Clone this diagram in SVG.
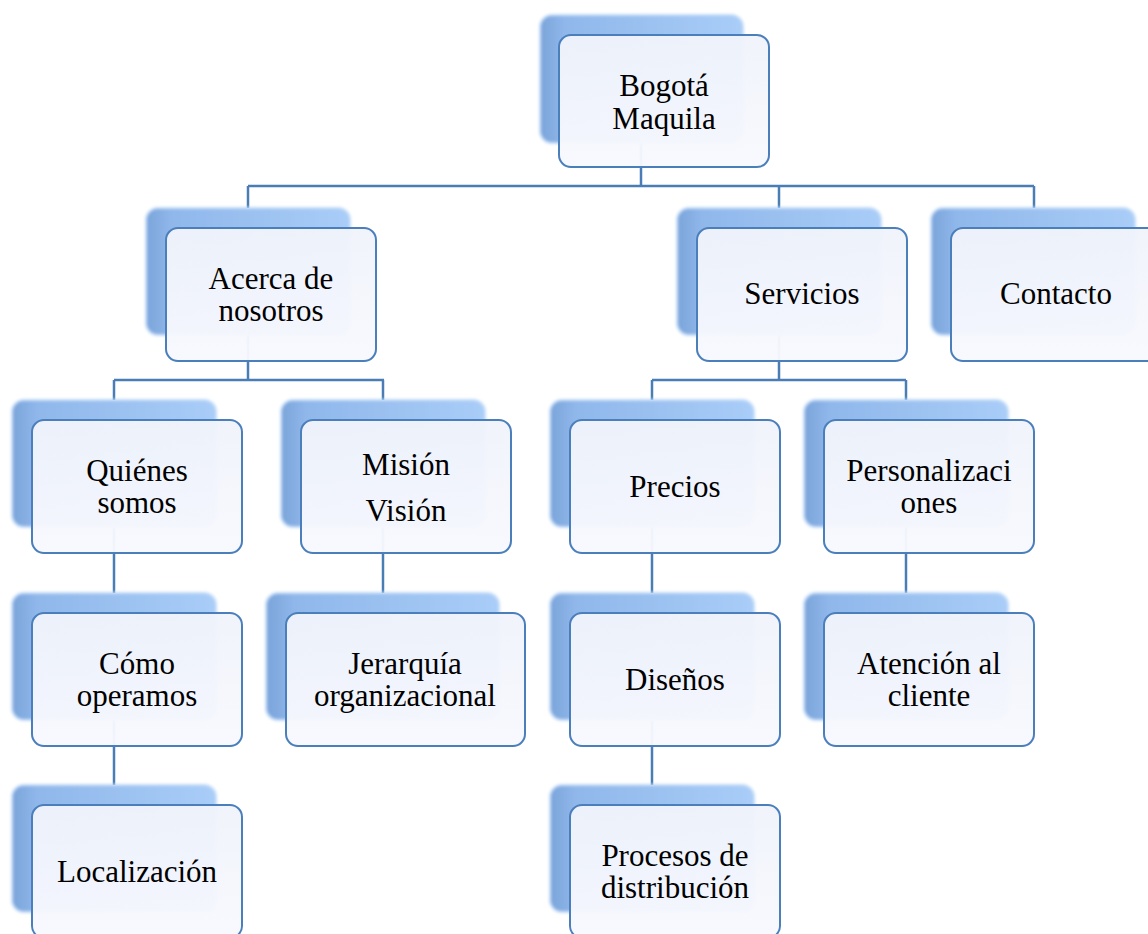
<svg xmlns="http://www.w3.org/2000/svg" width="1148" height="934" viewBox="0 0 1148 934">
<defs>
<linearGradient id="gBack" x1="0" y1="0" x2="1" y2="0">
<stop offset="0" stop-color="#7aa3da"/>
<stop offset="0.12" stop-color="#8fb7ea"/>
<stop offset="1" stop-color="#a9cdf8"/>
</linearGradient>
<linearGradient id="gFront" x1="0" y1="0" x2="0" y2="1">
<stop offset="0" stop-color="#f0f3fb"/>
<stop offset="1" stop-color="#f8f9fe"/>
</linearGradient>
<filter id="glow" x="-10%" y="-10%" width="120%" height="120%">
<feGaussianBlur stdDeviation="1.5"/>
</filter>
</defs>
<style>
.back{fill:url(#gBack);stroke:#c3dcf8;stroke-width:2;filter:url(#glow)}
.front{fill:url(#gFront);fill-opacity:0.96;stroke:#4a7fbc;stroke-width:2}
.t{font-family:"Liberation Serif","Times New Roman",serif;font-size:31px;fill:#000;text-anchor:middle}
.c{fill:none;stroke:#4a7db5;stroke-width:2.5}
</style>
<rect width="1148" height="934" fill="#fff"/>
<g id="connectors">
<path class="c" d="M641,143 V186 M248,186 H1034 M248,186 V208 M779,186 V208 M1034,186 V208"/>
<path class="c" d="M248,335 V380 M114,380 H384 M114,380 V400 M383,380 V400"/>
<path class="c" d="M779,335 V380 M652,380 H906 M652,380 V400 M906,380 V400"/>
<path class="c" d="M114,527 V593 M114,720 V785"/>
<path class="c" d="M383,527 V593"/>
<path class="c" d="M652,527 V593 M652,720 V785"/>
<path class="c" d="M906,527 V593"/>
</g>
<g id="n-root">
<rect class="back" x="540" y="15" width="203" height="128" rx="12"/>
<rect class="front" x="559" y="35" width="210" height="132" rx="12"/>
<text class="t" x="664" y="96">Bogotá</text><text class="t" x="664" y="129">Maquila</text>
</g>
<g id="n-acerca">
<rect class="back" x="146" y="208" width="204" height="127" rx="12"/>
<rect class="front" x="166" y="228" width="210" height="133" rx="12"/>
<text class="t" x="271" y="289">Acerca de</text><text class="t" x="271" y="321">nosotros</text>
</g>
<g id="n-servicios">
<rect class="back" x="677" y="208" width="204" height="127" rx="12"/>
<rect class="front" x="697" y="228" width="210" height="133" rx="12"/>
<text class="t" x="802" y="304">Servicios</text>
</g>
<g id="n-contacto">
<rect class="back" x="931" y="208" width="204" height="127" rx="12"/>
<rect class="front" x="951" y="228" width="210" height="133" rx="12"/>
<text class="t" x="1056" y="304">Contacto</text>
</g>
<g id="n-quienes">
<rect class="back" x="12" y="400" width="204" height="127" rx="12"/>
<rect class="front" x="32" y="420" width="210" height="133" rx="12"/>
<text class="t" x="137" y="481">Quiénes</text><text class="t" x="137" y="513">somos</text>
</g>
<g id="n-mision">
<rect class="back" x="281" y="400" width="204" height="127" rx="12"/>
<rect class="front" x="301" y="420" width="210" height="133" rx="12"/>
<text class="t" x="406" y="475">Misión</text><text class="t" x="406" y="521">Visión</text>
</g>
<g id="n-precios">
<rect class="back" x="550" y="400" width="204" height="127" rx="12"/>
<rect class="front" x="570" y="420" width="210" height="133" rx="12"/>
<text class="t" x="675" y="497">Precios</text>
</g>
<g id="n-personalizaciones">
<rect class="back" x="804" y="400" width="204" height="127" rx="12"/>
<rect class="front" x="824" y="420" width="210" height="133" rx="12"/>
<text class="t" x="929" y="481">Personalizaci</text><text class="t" x="929" y="513">ones</text>
</g>
<g id="n-como">
<rect class="back" x="12" y="593" width="204" height="127" rx="12"/>
<rect class="front" x="32" y="613" width="210" height="133" rx="12"/>
<text class="t" x="137" y="674">Cómo</text><text class="t" x="137" y="706">operamos</text>
</g>
<g id="n-jerarquia">
<rect class="back" x="266" y="593" width="233" height="127" rx="12"/>
<rect class="front" x="286" y="613" width="239" height="133" rx="12"/>
<text class="t" x="405" y="674">Jerarquía</text><text class="t" x="405" y="706">organizacional</text>
</g>
<g id="n-disenos">
<rect class="back" x="550" y="593" width="204" height="127" rx="12"/>
<rect class="front" x="570" y="613" width="210" height="133" rx="12"/>
<text class="t" x="675" y="690">Diseños</text>
</g>
<g id="n-atencion">
<rect class="back" x="804" y="593" width="204" height="127" rx="12"/>
<rect class="front" x="824" y="613" width="210" height="133" rx="12"/>
<text class="t" x="929" y="674">Atención al</text><text class="t" x="929" y="706">cliente</text>
</g>
<g id="n-localizacion">
<rect class="back" x="12" y="785" width="204" height="127" rx="12"/>
<rect class="front" x="32" y="805" width="210" height="133" rx="12"/>
<text class="t" x="137" y="882">Localización</text>
</g>
<g id="n-procesos">
<rect class="back" x="550" y="785" width="204" height="127" rx="12"/>
<rect class="front" x="570" y="805" width="210" height="133" rx="12"/>
<text class="t" x="675" y="866">Procesos de</text><text class="t" x="675" y="898">distribución</text>
</g>
</svg>
